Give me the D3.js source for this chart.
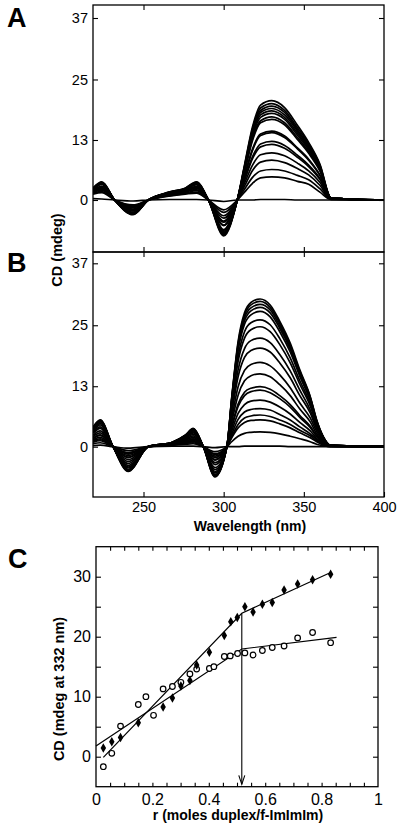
<!DOCTYPE html>
<html><head><meta charset="utf-8">
<script src="https://cdn.jsdelivr.net/npm/d3@7/dist/d3.min.js"></script>
<style>
body{margin:0;background:#fff}
svg{display:block}
text{font-family:"Liberation Sans",Arial,Helvetica,sans-serif;fill:#000}
</style>
</head><body>
<svg id="chart" width="400" height="827"></svg>
<script>
// ---------------- DATA ----------------
const wavelengthTicks = [250, 300, 350, 400];
const spectraYTickValues = [0, 12.2, 24.5, 37];
const spectraYTickLabels = ["0", "13", "25", "37"];

// Panel A: CD (mdeg) at key wavelengths, one row per titration spectrum
const wavelengthsA = [218.5, 224, 232, 243.5, 253, 266, 276, 283, 290.5, 300, 308.5, 313, 318, 323, 330, 338, 346, 353, 360, 367, 400];
const spectraA = [
  [2.4, 3.7, 0, -3.0, 0, 1.6, 2.4, 3.7, 0, -7.3, 0, 7.1, 14.9, 19.3, 20.2, 18.8, 15.2, 11.7, 7.3, 0.4, 0],
  [2.4, 3.6, 0, -2.9, 0, 1.6, 2.4, 3.6, 0, -7.1, 0, 6.9, 14.5, 18.7, 19.6, 18.2, 14.7, 11.4, 7.1, 0.4, 0],
  [2.3, 3.5, 0, -2.9, 0, 1.5, 2.3, 3.5, 0, -6.9, 0, 6.7, 14.1, 18.2, 19.1, 17.8, 14.3, 11.1, 6.9, 0.4, 0],
  [2.3, 3.5, 0, -2.8, 0, 1.5, 2.3, 3.5, 0, -6.8, 0, 6.5, 13.8, 17.8, 18.6, 17.3, 14.0, 10.8, 6.7, 0.4, 0],
  [2.2, 3.4, 0, -2.7, 0, 1.5, 2.2, 3.4, 0, -6.6, 0, 6.3, 13.4, 17.3, 18.1, 16.8, 13.6, 10.5, 6.5, 0.4, 0],
  [2.2, 3.3, 0, -2.7, 0, 1.5, 2.2, 3.3, 0, -6.4, 0, 6.2, 13.0, 16.8, 17.6, 16.4, 13.2, 10.2, 6.3, 0.4, 0],
  [2.2, 3.2, 0, -2.6, 0, 1.4, 2.1, 3.2, 0, -6.2, 0, 5.9, 12.5, 16.1, 16.9, 15.7, 12.7, 9.8, 6.1, 0.4, 0],
  [2.1, 3.2, 0, -2.5, 0, 1.4, 2.1, 3.1, 0, -6.0, 0, 5.7, 12.1, 15.7, 16.4, 15.3, 12.3, 9.5, 5.9, 0.4, 0],
  [1.9, 2.8, 0, -2.2, 0, 1.3, 1.9, 2.8, 0, -5.2, 0, 4.9, 10.4, 13.4, 14.0, 13.0, 10.6, 8.3, 5.1, 0.3, 0],
  [1.9, 2.8, 0, -2.2, 0, 1.3, 1.9, 2.7, 0, -5.1, 0, 4.8, 10.1, 13.1, 13.7, 12.7, 10.4, 8.1, 5.0, 0.3, 0],
  [1.8, 2.5, 0, -1.9, 0, 1.2, 1.7, 2.5, 0, -4.5, 0, 4.2, 8.8, 11.4, 11.9, 11.1, 9.1, 7.1, 4.4, 0.3, 0],
  [1.7, 2.4, 0, -1.9, 0, 1.2, 1.7, 2.4, 0, -4.3, 0, 4.0, 8.4, 10.8, 11.3, 10.5, 8.7, 6.8, 4.2, 0.3, 0],
  [1.6, 2.2, 0, -1.6, 0, 1.1, 1.6, 2.1, 0, -3.7, 0, 3.4, 7.1, 9.2, 9.6, 9.0, 7.5, 5.9, 3.6, 0.2, 0],
  [1.5, 2.0, 0, -1.4, 0, 1.0, 1.4, 1.9, 0, -3.2, 0, 2.8, 6.0, 7.7, 8.1, 7.6, 6.4, 5.1, 3.0, 0.2, 0],
  [1.4, 1.7, 0, -1.2, 0, 0.9, 1.3, 1.6, 0, -2.5, 0, 2.2, 4.6, 5.9, 6.2, 5.9, 5.0, 4.1, 2.3, 0.1, 0],
  [1.2, 1.5, 0, -1.0, 0, 0.8, 1.2, 1.4, 0, -2.0, 0, 1.6, 3.4, 4.5, 4.7, 4.5, 3.8, 3.2, 1.6, 0.1, 0],
  [0.3, 0.2, 0, -0.2, 0, 0.1, 0.1, 0.1, 0, -0.3, 0, 0, 0, 0.1, 0.1, 0.1, 0, 0, 0, 0, 0]
];

// Panel B
const wavelengthsB = [218.5, 223, 231, 240.5, 253, 268, 276, 281, 287.3, 294.6, 302, 305, 309, 313, 317, 322.7, 329, 335, 341.5, 347.5, 354, 358, 362, 366.5, 400];
const spectraB = [
  [3.9, 5.4, 0, -5.0, 0, 0.9, 2.3, 3.7, 0, -6.1, 0, 9.8, 21.2, 27.0, 29.1, 29.8, 28.6, 25.3, 20.9, 15.5, 10.1, 5.4, 2.1, 0.3, 0],
  [3.8, 5.3, 0, -4.9, 0, 0.9, 2.3, 3.6, 0, -6.0, 0, 9.7, 20.8, 26.5, 28.6, 29.3, 28.1, 24.9, 20.5, 15.2, 10.0, 5.3, 2.1, 0.3, 0],
  [3.8, 5.2, 0, -4.8, 0, 0.9, 2.2, 3.6, 0, -5.9, 0, 9.5, 20.4, 26.0, 28.0, 28.7, 27.6, 24.4, 20.1, 14.9, 9.8, 5.2, 2.0, 0.3, 0],
  [3.7, 5.1, 0, -4.7, 0, 0.9, 2.2, 3.5, 0, -5.8, 0, 9.3, 20.0, 25.4, 27.4, 28.1, 27.0, 23.9, 19.7, 14.6, 9.6, 5.1, 2.0, 0.3, 0],
  [3.6, 5.0, 0, -4.6, 0, 0.8, 2.1, 3.4, 0, -5.6, 0, 9.0, 19.4, 24.7, 26.6, 27.3, 26.2, 23.2, 19.1, 14.2, 9.3, 4.9, 1.9, 0.3, 0],
  [3.4, 4.7, 0, -4.3, 0, 0.8, 2.0, 3.2, 0, -5.3, 0, 8.4, 18.2, 23.2, 25.0, 25.6, 24.6, 21.8, 17.9, 13.3, 8.7, 4.6, 1.8, 0.3, 0],
  [3.2, 4.4, 0, -4.1, 0, 0.8, 1.9, 3.0, 0, -5.0, 0, 8.0, 17.2, 21.9, 23.6, 24.2, 23.2, 20.6, 16.9, 12.6, 8.2, 4.4, 1.7, 0.2, 0],
  [2.9, 4.0, 0, -3.8, 0, 0.7, 1.8, 2.8, 0, -4.6, 0, 7.2, 15.5, 19.8, 21.4, 21.9, 21.0, 18.6, 15.3, 11.4, 7.4, 3.9, 1.5, 0.2, 0],
  [2.7, 3.7, 0, -3.4, 0, 0.7, 1.6, 2.5, 0, -4.2, 0, 6.6, 14.1, 18.0, 19.4, 19.9, 19.1, 16.9, 13.9, 10.3, 6.8, 3.6, 1.4, 0.2, 0],
  [2.3, 3.2, 0, -3.0, 0, 0.6, 1.4, 2.2, 0, -3.6, 0, 5.6, 12.1, 15.4, 16.6, 17.0, 16.3, 14.5, 11.9, 8.8, 5.8, 3.1, 1.2, 0.2, 0],
  [2.0, 2.8, 0, -2.6, 0, 0.5, 1.3, 1.9, 0, -3.2, 0, 4.9, 10.4, 13.3, 14.3, 14.7, 14.1, 12.5, 10.3, 7.6, 5.0, 2.6, 1.0, 0.1, 0],
  [1.7, 2.4, 0, -2.2, 0, 0.5, 1.1, 1.6, 0, -2.7, 0, 4.0, 8.6, 11.0, 11.8, 12.1, 11.6, 10.3, 8.5, 6.3, 4.1, 2.2, 0.8, 0.1, 0],
  [1.6, 2.3, 0, -2.1, 0, 0.5, 1.1, 1.5, 0, -2.6, 0, 3.8, 8.1, 10.3, 11.1, 11.4, 10.9, 9.7, 8.0, 5.9, 3.9, 2.1, 0.8, 0.1, 0],
  [1.4, 1.9, 0, -1.8, 0, 0.4, 0.9, 1.3, 0, -2.2, 0, 3.1, 6.7, 8.5, 9.2, 9.4, 9.0, 8.0, 6.6, 4.9, 3.2, 1.7, 0.7, 0.1, 0],
  [1.2, 1.6, 0, -1.5, 0, 0.4, 0.8, 1.1, 0, -1.9, 0, 2.5, 5.5, 7.0, 7.5, 7.7, 7.4, 6.5, 5.4, 4.0, 2.6, 1.4, 0.5, 0.1, 0],
  [1.0, 1.4, 0, -1.3, 0, 0.4, 0.7, 1.0, 0, -1.6, 0, 2.1, 4.5, 5.8, 6.2, 6.4, 6.1, 5.4, 4.5, 3.3, 2.2, 1.2, 0.4, 0.1, 0],
  [0.9, 1.2, 0, -1.2, 0, 0.3, 0.7, 0.8, 0, -1.4, 0, 1.8, 3.8, 4.9, 5.3, 5.4, 5.2, 4.6, 3.8, 2.8, 1.8, 1.0, 0.4, 0, 0],
  [0.6, 0.8, 0, -0.8, 0, 0.3, 0.5, 0.6, 0, -1.0, 0, 1.0, 2.1, 2.7, 2.9, 3.0, 2.9, 2.6, 2.1, 1.6, 1.0, 0.5, 0.2, 0, 0],
  [0.2, 0.3, 0, -0.3, 0, 0.1, 0.1, 0.1, 0, -0.2, 0, 0, 0, 0.1, 0.1, 0.1, 0.1, 0.1, 0, 0, 0, 0, 0, 0, 0]
];

// Panel C: titration at 332 nm
const rFilled  = [0.026, 0.056, 0.087, 0.150, 0.238, 0.271, 0.301, 0.333, 0.357, 0.402, 0.455, 0.478, 0.501, 0.528, 0.557, 0.590, 0.625, 0.667, 0.715, 0.768, 0.832];
const cdFilled = [1.45, 2.5, 3.2, 5.67, 8.3, 9.8, 11.8, 12.7, 15.3, 17.4, 20.2, 22.5, 23.2, 25.0, 24.1, 25.4, 25.7, 27.8, 28.8, 29.5, 30.4];
const rOpen  = [0.026, 0.056, 0.087, 0.150, 0.177, 0.204, 0.238, 0.271, 0.301, 0.333, 0.357, 0.402, 0.418, 0.455, 0.476, 0.502, 0.528, 0.557, 0.590, 0.625, 0.667, 0.715, 0.768, 0.832];
const cdOpen = [-1.67, 0.57, 5.1, 8.7, 10.0, 6.9, 11.3, 11.7, 12.4, 13.8, 14.6, 14.7, 15.0, 16.7, 16.8, 17.2, 17.3, 16.95, 17.7, 18.2, 18.45, 19.8, 20.7, 19.0];
const fitFilledR  = [0.026, 0.517, 0.832];
const fitFilledCD = [-0.1, 23.9, 30.7];
const fitOpenR  = [0, 0.517, 0.853];
const fitOpenCD = [1.8, 17.95, 19.9];
const breakpointR = 0.517;
const cXTickValues = [0, 0.2, 0.4, 0.6, 0.8, 1];
const cXTickLabels = ["0", "0.2", "0.4", "0.6", "0.8", "1"];
const cXMinorTicks = d3.range(1, 20).map(i => i / 20);
const cYTickValues = [0, 10, 20, 30];
const cYMinorTicks = [0, 5, 10, 15, 20, 25, 30];

// ---------------- DRAWING ----------------
const svg = d3.select("#chart");
const fontTick = "14.5px";
const X0 = 93, X1 = 384;
const x = d3.scaleLinear().domain([218.5, 400]).range([X0, X1]);

const panels = [
  {letter: "A", top: 5, bottom: 252, zero: 200, y37: 18, wl: wavelengthsA, data: spectraA, letterY: 27},
  {letter: "B", top: 252, bottom: 497, zero: 446.7, y37: 263.3, wl: wavelengthsB, data: spectraB, letterY: 272}
];

panels.forEach((p, i) => {
  const y = d3.scaleLinear().domain([0, 37]).range([p.zero, p.y37]);
  const g = svg.append("g");
  const clipId = "clip" + i;
  svg.append("clipPath").attr("id", clipId).append("rect")
    .attr("x", X0).attr("y", p.top).attr("width", X1 - X0).attr("height", p.bottom - p.top);
  const line = d3.line().x(d => x(d[0])).y(d => y(d[1])).curve(d3.curveMonotoneX);
  const cg = g.append("g").attr("clip-path", `url(#${clipId})`);
  p.data.forEach(row => {
    cg.append("path").datum(p.wl.map((w, k) => [w, row[k]]))
      .attr("d", line).attr("fill", "none").attr("stroke", "#000")
      .attr("stroke-width", 1.7).attr("stroke-linejoin", "round");
  });
  // frame
  g.append("rect").attr("x", X0).attr("y", p.top).attr("width", X1 - X0).attr("height", p.bottom - p.top)
    .attr("fill", "none").attr("stroke", "#000").attr("stroke-width", 1.3);
  // left axis with labels
  const la = g.append("g").attr("transform", `translate(${X0},0)`)
    .call(d3.axisLeft(y).tickValues(spectraYTickValues).tickSize(-5).tickPadding(5)
      .tickFormat((d, k) => spectraYTickLabels[k]));
  la.select(".domain").remove();
  la.selectAll("text").style("font-size", fontTick).style("font-family", null);
  // right axis
  const ra = g.append("g").attr("transform", `translate(${X1},0)`)
    .call(d3.axisRight(y).tickValues(spectraYTickValues).tickSize(-5).tickFormat(""));
  ra.select(".domain").remove();
  // top ticks
  const ta = g.append("g").attr("transform", `translate(0,${p.top})`)
    .call(d3.axisTop(x).tickValues(wavelengthTicks.slice(0, 3)).tickSize(i === 0 ? -5 : 5).tickFormat(""));
  ta.select(".domain").remove();
  if (i === 1) {
    const ta2 = g.append("g").attr("transform", `translate(0,${p.top})`)
      .call(d3.axisTop(x).tickValues(wavelengthTicks.slice(0, 3)).tickSize(-5).tickFormat(""));
    ta2.select(".domain").remove();
    const ba = g.append("g").attr("transform", `translate(0,${p.bottom})`)
      .call(d3.axisBottom(x).tickValues(wavelengthTicks).tickSize(-5).tickPadding(5));
    ba.select(".domain").remove();
    ba.selectAll("text").style("font-size", fontTick).style("font-family", null);
  }
  svg.append("text").attr("x", 7).attr("y", p.letterY).text(p.letter)
    .style("font-size", "27px").style("font-weight", "bold");
});
svg.selectAll(".tick line").attr("stroke", "#000").attr("stroke-width", 1.1);

svg.append("text").attr("x", 250).attr("y", 531).attr("text-anchor", "middle")
  .style("font-size", "14px").style("font-weight", "bold").text("Wavelength (nm)");
svg.append("text").attr("transform", "translate(62,250) rotate(-90)").attr("text-anchor", "middle")
  .style("font-size", "14.5px").style("font-weight", "bold").text("CD (mdeg)");

// ---------- Panel C ----------
const cx = d3.scaleLinear().domain([0, 1]).range([96, 378]);
const cy = d3.scaleLinear().domain([-5, 35]).range([786.7, 546.7]);
const gc = svg.append("g");
gc.append("rect").attr("x", 96).attr("y", 546.7).attr("width", 282).attr("height", 240)
  .attr("fill", "none").attr("stroke", "#000").attr("stroke-width", 1.3);

const cl = gc.append("g").attr("transform", "translate(96,0)")
  .call(d3.axisLeft(cy).tickValues(cYMinorTicks).tickSize(-5).tickPadding(5)
    .tickFormat(d => cYTickValues.includes(d) ? String(d) : ""));
const cr = gc.append("g").attr("transform", "translate(378,0)")
  .call(d3.axisRight(cy).tickValues(cYMinorTicks).tickSize(-5).tickFormat(""));
const ct = gc.append("g").attr("transform", "translate(0,546.7)")
  .call(d3.axisTop(cx).tickValues(cXMinorTicks).tickSize(-4).tickFormat(""));
const cb = gc.append("g").attr("transform", "translate(0,786.7)")
  .call(d3.axisBottom(cx).tickValues(cXMinorTicks).tickSize(-4).tickFormat(""));
const cb2 = gc.append("g").attr("transform", "translate(0,786.7)")
  .call(d3.axisBottom(cx).tickValues(cXTickValues).tickSize(0).tickPadding(7)
    .tickFormat((d, k) => cXTickLabels[k]));
[cl, cr, ct, cb, cb2].forEach(a => {
  a.select(".domain").remove();
  a.selectAll("line").attr("stroke", "#000").attr("stroke-width", 1.1);
  a.selectAll("text").style("font-size", "16px").style("font-family", null);
});

const fitLine = d3.line().x(d => cx(d[0])).y(d => cy(d[1]));
gc.append("path").datum(fitFilledR.map((r, k) => [r, fitFilledCD[k]]))
  .attr("d", fitLine).attr("fill", "none").attr("stroke", "#000").attr("stroke-width", 1.2);
gc.append("path").datum(fitOpenR.map((r, k) => [r, fitOpenCD[k]]))
  .attr("d", fitLine).attr("fill", "none").attr("stroke", "#000").attr("stroke-width", 1.2);

// arrow at breakpoint
const ax = cx(breakpointR), ayTop = cy(fitFilledCD[1]), ayTip = cy(-4.6);
gc.append("line").attr("x1", ax).attr("x2", ax).attr("y1", ayTop).attr("y2", ayTip)
  .attr("stroke", "#000").attr("stroke-width", 1.1);
gc.append("path").attr("d", `M${ax - 3},${ayTip - 9}L${ax},${ayTip}L${ax + 3},${ayTip - 9}`)
  .attr("fill", "none").attr("stroke", "#000").attr("stroke-width", 1.1);

// markers
gc.selectAll(".open").data(rOpen.map((r, k) => [r, cdOpen[k]])).enter().append("circle")
  .attr("cx", d => cx(d[0])).attr("cy", d => cy(d[1])).attr("r", 2.8)
  .attr("fill", "#fff").attr("stroke", "#000").attr("stroke-width", 1.2);
const diamond = d3.symbol().type(d3.symbolDiamond).size(26);
gc.selectAll(".filled").data(rFilled.map((r, k) => [r, cdFilled[k]])).enter().append("path")
  .attr("d", diamond).attr("transform", d => `translate(${cx(d[0])},${cy(d[1])})`)
  .attr("fill", "#000");

svg.append("text").attr("x", 8).attr("y", 568).text("C")
  .style("font-size", "27px").style("font-weight", "bold");
svg.append("text").attr("x", 238).attr("y", 820).attr("text-anchor", "middle")
  .style("font-size", "14px").style("font-weight", "bold").text("r (moles duplex/f-ImImIm)");
svg.append("text").attr("transform", "translate(64,689) rotate(-90)").attr("text-anchor", "middle")
  .style("font-size", "14.5px").style("font-weight", "bold").text("CD (mdeg at 332 nm)");
</script>
</body></html>
